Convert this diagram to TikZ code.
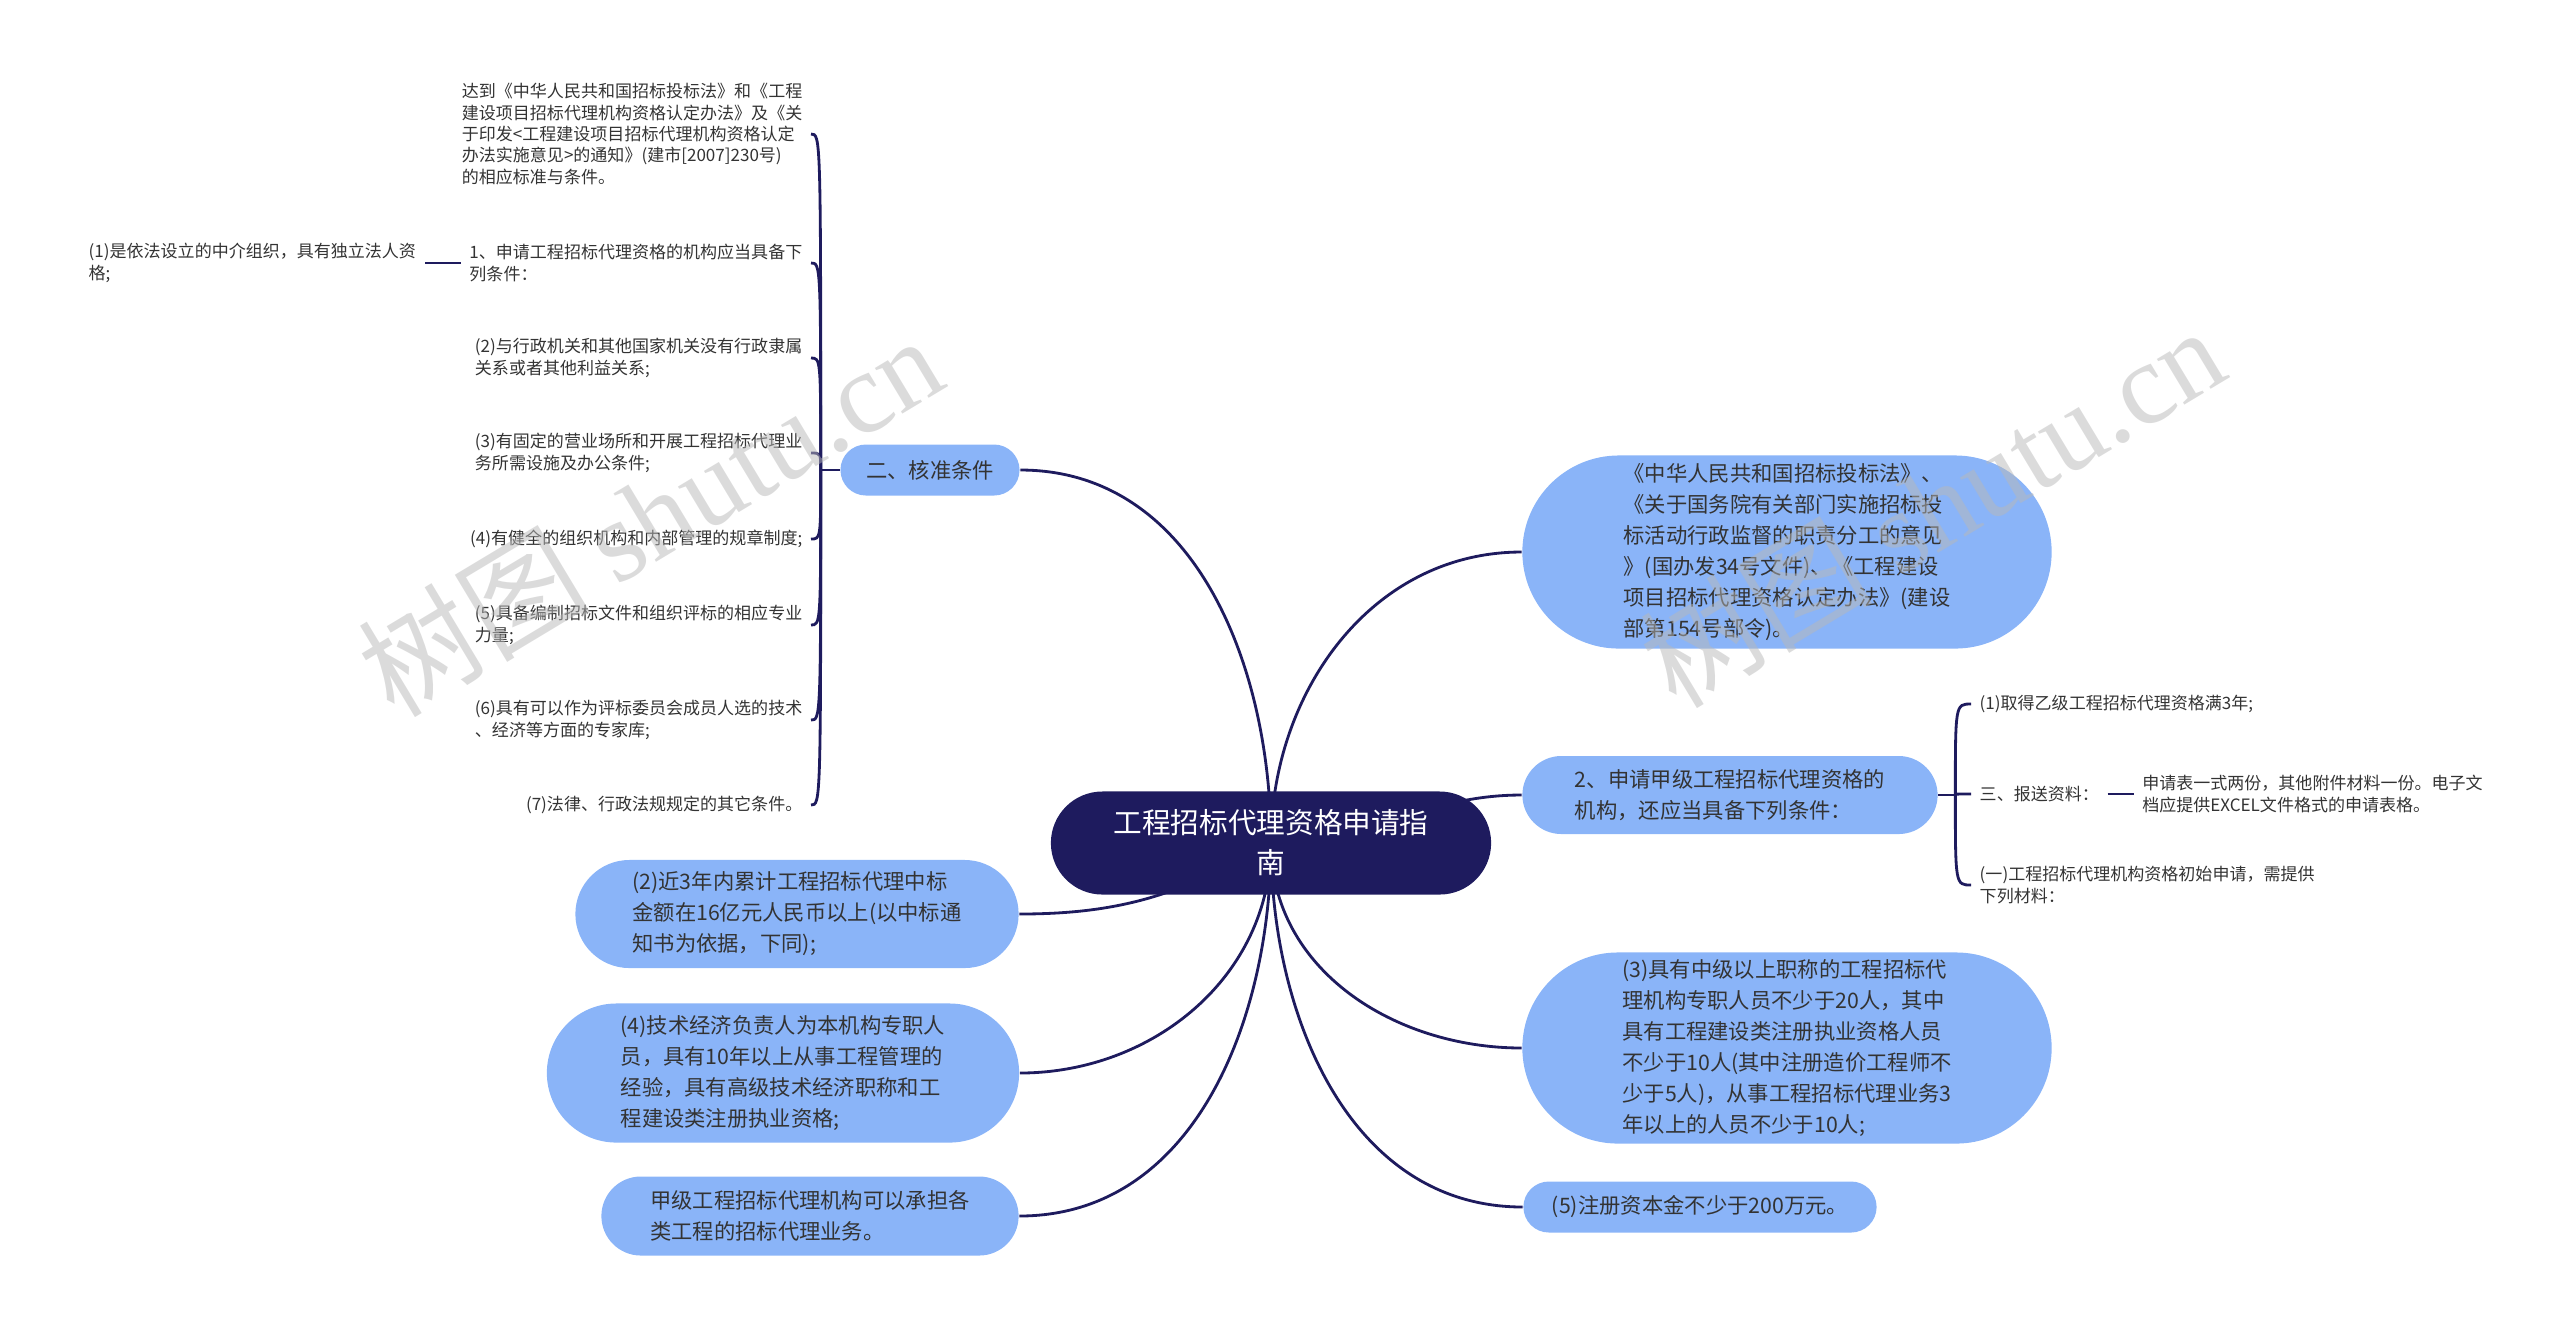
\documentclass[tikz,border=0pt]{standalone}
\usepackage{fontspec}
\setmainfont{Noto Sans CJK SC}
\newfontfamily\wmserif{Liberation Serif}
\usetikzlibrary{positioning,backgrounds}
\definecolor{rootnavy}{HTML}{1E1B5E}
\definecolor{topicblue}{HTML}{8AB4F8}
\definecolor{inkgray}{HTML}{333333}
\newcommand{\rootfont}{\fontsize{8.15pt}{11.4pt}\selectfont}
\newcommand{\topicfont}{\fontsize{6.06pt}{8.8pt}\selectfont}
\newcommand{\leaffont}{\fontsize{4.84pt}{6.06pt}\selectfont}
\newcommand{\wmfont}{\fontsize{33pt}{33pt}\selectfont}

\begin{document}
\begin{tikzpicture}[x=0.01cm, y=-0.01cm,
    rootnode/.style={fill=rootnavy, text=white, font=\rootfont, align=center, inner sep=0pt,
      minimum width=4.4cm, minimum height=1.03cm, rounded corners=0.515cm},
    topic/.style={fill=topicblue, text=inkgray, font=\topicfont, align=left, inner sep=0pt},
    leaf/.style={text=inkgray, font=\leaffont, align=left, inner xsep=0.08cm, inner ysep=0pt},
    branch/.style={draw=rootnavy, line width=0.8pt},
    wmark/.style={text=black!28, text opacity=0.5, font=\wmfont, rotate=31}
  ]
  \useasboundingbox (0,0) rectangle (2560,1329);

  % centre
  \node[rootnode] (root) at (1271,843) {工程招标代理资格申请指\\南};

  % main topics
  \node[topic, minimum width=1.79cm, minimum height=0.51cm, rounded corners=0.255cm] (hz) at (930,470) {二、核准条件};
  \node[topic, minimum width=5.29cm, minimum height=1.93cm, rounded corners=0.965cm] (law) at (1787,552)
    {《中华人民共和国招标投标法》、\\《关于国务院有关部门实施招标投\\标活动行政监督的职责分工的意见\\》(国办发34号文件)、《工程建设\\项目招标代理资格认定办法》(建设\\部第154号部令)。};
  \node[topic, minimum width=4.15cm, minimum height=0.78cm, rounded corners=0.39cm] (jia) at (1730,795)
    {2、申请甲级工程招标代理资格的\\机构，还应当具备下列条件：};
  \node[topic, minimum width=5.29cm, minimum height=1.91cm, rounded corners=0.955cm] (staff) at (1787,1048)
    {(3)具有中级以上职称的工程招标代\\理机构专职人员不少于20人，其中\\具有工程建设类注册执业资格人员\\不少于10人(其中注册造价工程师不\\少于5人)，从事工程招标代理业务3\\年以上的人员不少于10人;};
  \node[topic, minimum width=3.53cm, minimum height=0.51cm, rounded corners=0.255cm] (capital) at (1700,1207)
    {(5)注册资本金不少于200万元。};
  \node[topic, minimum width=4.43cm, minimum height=1.08cm, rounded corners=0.54cm] (amount) at (797,914)
    {(2)近3年内累计工程招标代理中标\\金额在16亿元人民币以上(以中标通\\知书为依据，下同);};
  \node[topic, minimum width=4.72cm, minimum height=1.39cm, rounded corners=0.695cm] (tech) at (783,1073)
    {(4)技术经济负责人为本机构专职人\\员，具有10年以上从事工程管理的\\经验，具有高级技术经济职称和工\\程建设类注册执业资格;};
  \node[topic, minimum width=4.17cm, minimum height=0.79cm, rounded corners=0.395cm] (scope) at (810,1216)
    {甲级工程招标代理机构可以承担各\\类工程的招标代理业务。};

  % conditions (left)
  \coordinate[left=0.19cm of hz] (hzj);
  \node[leaf, anchor=east] (c0) at (811,134)
    {达到《中华人民共和国招标投标法》和《工程\\建设项目招标代理机构资格认定办法》及《关\\于印发<工程建设项目招标代理机构资格认定\\办法实施意见>的通知》(建市[2007]230号)\\的相应标准与条件。};
  \node[leaf, anchor=east] (c1) at (811,263) {1、申请工程招标代理资格的机构应当具备下\\列条件：};
  \node[leaf, left=0.36cm of c1] (c1a) {(1)是依法设立的中介组织，具有独立法人资\\格;};
  \node[leaf, anchor=east] (c2) at (811,358) {(2)与行政机关和其他国家机关没有行政隶属\\关系或者其他利益关系;};
  \node[leaf, anchor=east] (c3) at (811,453) {(3)有固定的营业场所和开展工程招标代理业\\务所需设施及办公条件;};
  \node[leaf, anchor=east] (c4) at (811,539) {(4)有健全的组织机构和内部管理的规章制度;};
  \node[leaf, anchor=east] (c5) at (811,625) {(5)具备编制招标文件和组织评标的相应专业\\力量;};
  \node[leaf, anchor=east] (c6) at (811,720) {(6)具有可以作为评标委员会成员人选的技术\\、经济等方面的专家库;};
  \node[leaf, anchor=east] (c7) at (811,805) {(7)法律、行政法规规定的其它条件。};

  % materials (right)
  \coordinate[right=0.17cm of jia] (jiaj);
  \node[leaf, anchor=west] (d1) at (1971,704) {(1)取得乙级工程招标代理资格满3年;};
  \node[leaf, anchor=west] (d2) at (1971,794) {三、报送资料：};
  \node[leaf, right=0.26cm of d2] (d2a) {申请表一式两份，其他附件材料一份。电子文\\档应提供EXCEL文件格式的申请表格。};
  \node[leaf, anchor=west] (d3) at (1971,885) {(一)工程招标代理机构资格初始申请，需提供\\下列材料：};

  \begin{scope}[on background layer]
    \draw[branch] (root.center) to[out=90,in=0] (hz.east);
    \draw[branch] (root.center) to[out=90,in=180] (law.west);
    \draw[branch] (root.center) to[out=0,in=180] (jia.west);
    \draw[branch] (root.center) to[out=-90,in=180] (staff.west);
    \draw[branch] (root.center) to[out=-90,in=180] (capital.west);
    \draw[branch] (root.center) to[out=-150,in=0] (amount.east);
    \draw[branch] (root.center) to[out=-90,in=0] (tech.east);
    \draw[branch] (root.center) to[out=-90,in=0] (scope.east);
    \draw[branch] (hz.west) -- (hzj);
    \foreach \n in {c0,c1,c2,c3,c4,c5,c6,c7}
      \draw[branch] (hzj) .. controls (hzj |- \n.east) .. (\n.east);
    \draw[branch] (c1.west) -- (c1a.east);
    \draw[branch] (jia.east) -- (jiaj);
    \foreach \n in {d1,d2,d3}
      \draw[branch] (jiaj) .. controls (jiaj |- \n.west) .. (\n.west);
    \draw[branch] (d2.east) -- (d2a.west);
  \end{scope}

  % watermarks
  \node[wmark] (wm1) at (650,515) {树图 {\wmserif shutu.cn}};
  \node[wmark] (wm2) at (1932,506) {树图 {\wmserif shutu.cn}};
\end{tikzpicture}
\end{document}
